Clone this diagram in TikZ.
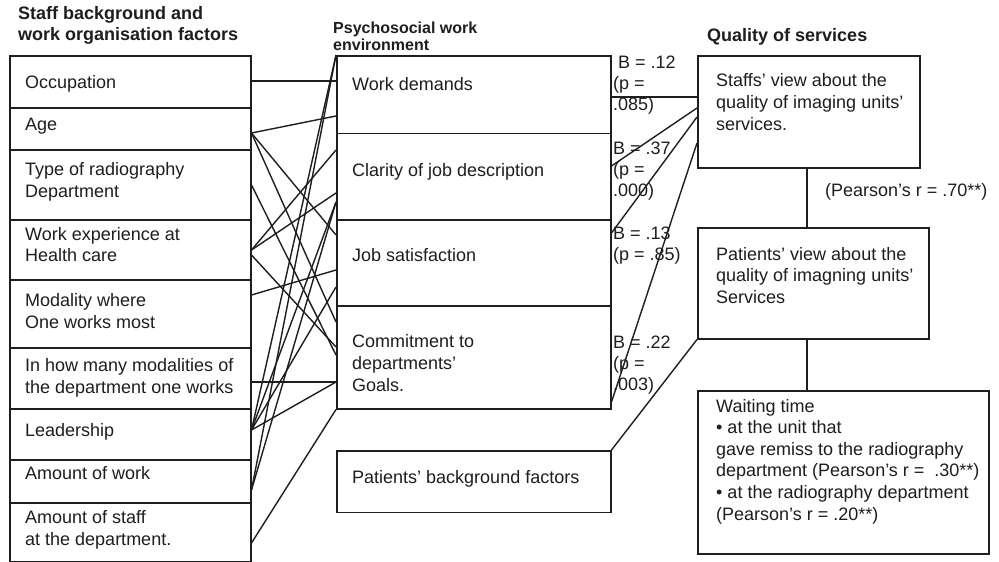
\documentclass[tikz,border=0pt]{standalone}
\usepackage{fontspec}
\setmainfont{Liberation Sans}
\usetikzlibrary{calc}
\definecolor{ink}{HTML}{1E1E1E}
\begin{document}
\begin{tikzpicture}[x=1pt,y=-1pt,
  box/.style={draw=ink, line width=1.5pt, inner sep=0pt, anchor=north west},
  txt/.style={anchor=base west, inner sep=0pt, align=left, text=ink, font=\fontsize{18}{21.6}\selectfont},
  lab/.style={anchor=base west, inner sep=0pt, align=left, text=ink, font=\fontsize{18}{20.8}\selectfont},
  hdr/.style={anchor=base west, inner sep=0pt, align=left, text=ink, font=\fontsize{18}{21.4}\selectfont\bfseries},
  hdrs/.style={anchor=base west, inner sep=0pt, align=left, text=ink, font=\fontsize{16}{17}\selectfont\bfseries},
  lnk/.style={draw=ink, line width=1.4pt},
]
\useasboundingbox[fill=white] (0,0) rectangle (999,562);

% headers (base anchor = baseline of last line)
\node[hdr] (h1) at (18,40.7) {Staff background and\\work organisation factors};
\node[hdrs] (h2) at (333,50) {Psychosocial work\\environment};
\node[hdr] (h3) at (707,41.7) {Quality of services};

% left column boxes
\node[box, minimum width=241pt, minimum height=52pt] (occ) at (9,55) {};
\node[box, minimum width=241pt, minimum height=42pt] (age) at (9,107) {};
\node[box, minimum width=241pt, minimum height=70pt] (type) at (9,149) {};
\node[box, minimum width=241pt, minimum height=60pt] (wexp) at (9,219) {};
\node[box, minimum width=241pt, minimum height=68pt] (mod) at (9,279) {};
\node[box, minimum width=241pt, minimum height=61pt] (many) at (9,347) {};
\node[box, minimum width=241pt, minimum height=51pt] (lead) at (9,408) {};
\node[box, minimum width=241pt, minimum height=43pt] (work) at (9,459) {};
\node[box, minimum width=241pt, minimum height=59pt] (staff) at (9,502) {};

\node[txt] (t-occ) at (25,88.3) {Occupation};
\node[txt] (t-age) at (25,130) {Age};
\node[txt] (t-type) at (25,197.5) {Type of radiography\\Department};
\node[txt] (t-wexp) at (25,261.7) {Work experience at\\Health care};
\node[txt] (t-mod) at (25,328.3) {Modality where\\One works most};
\node[txt] (t-many) at (25,393.3) {In how many modalities of\\the department one works};
\node[txt] (t-lead) at (25,436.7) {Leadership};
\node[txt] (t-work) at (25,479.3) {Amount of work};
\node[txt] (t-staff) at (25,545) {Amount of staff\\at the department.};

% middle column boxes
\node[box, minimum width=274pt, minimum height=77.7pt] (wd) at (336,55) {};
\node[box, minimum width=274pt, minimum height=86.3pt] (cl) at (336,132.7) {};
\node[box, minimum width=274pt, minimum height=86pt] (js) at (336,219) {};
\node[box, minimum width=274pt, minimum height=103pt] (com) at (336,305) {};
\node[box, minimum width=274pt, minimum height=61.7pt] (pat) at (336,450) {};

\node[txt] (t-wd) at (352,90) {Work demands};
\node[txt] (t-cl) at (352,176) {Clarity of job description};
\node[txt] (t-js) at (352,261) {Job satisfaction};
\node[txt] (t-com) at (352,391) {Commitment to\\departments’\\Goals.};
\node[txt] (t-pat) at (352,483) {Patients’ background factors};

% right column boxes
\node[box, minimum width=222pt, minimum height=112pt] (s1) at (697,55) {};
\node[box, minimum width=231pt, minimum height=111pt] (s2) at (697,227) {};
\node[box, minimum width=291pt, minimum height=163pt] (s3) at (697,390) {};

\node[txt] (t-s1) at (716,130) {Staffs’ view about the\\quality of imaging units’\\services.};
\node[txt] (t-s2) at (716,303.3) {Patients’ view about the\\quality of imagning units’\\Services};
\node[txt] (t-s3) at (716,520) {Waiting time\\• at the unit that\\gave remiss to the radiography\\department (Pearson’s r =\ \ .30**)\\• at the radiography department\\(Pearson’s r = .20**)};
\node[txt] (t-r70) at (825,196.7) {(Pearson’s r = .70**)};

% coefficient labels
\node[lab] (b12) at (613,110) {\hspace{5pt}B = .12\\(p =\\.085)};
\node[lab] (b37) at (613,196) {B = .37\\(p =\\.000)};
\node[lab] (b13) at (613,260) {B = .13\\(p = .85)};
\node[lab] (b22) at (613,390) {B = .22\\(p =\\.003)};

% left -> middle connectors
\draw[lnk] (occ.east |- 0,81) -- (wd.west |- 0,81);
\draw[lnk] (age.east |- 0,133) -- (wd.west |- 0,116);
\draw[lnk] (age.east |- 0,133) -- (js.west |- 0,235);
\draw[lnk] (age.east |- 0,133) -- (com.west |- 0,322);
\draw[lnk] (type.east |- 0,185) -- (com.west |- 0,355);
\draw[lnk] (wexp.east |- 0,250) -- (cl.west |- 0,150);
\draw[lnk] (wexp.east |- 0,250) -- (cl.west |- 0,193);
\draw[lnk] (wexp.east |- 0,255) -- (com.west |- 0,347);
\draw[lnk] (mod.east |- 0,295) -- (js.west |- 0,270);
\draw[lnk] (many.east |- 0,382) -- (com.west |- 0,382);
\draw[lnk] (lead.east |- 0,430) -- (com.west |- 0,382);
\draw[lnk] (lead.east |- 0,430) -- (wd.north west);
\draw[lnk] (lead.east |- 0,430) -- (cl.west |- 0,202);
\draw[lnk] (lead.east |- 0,430) -- (js.west |- 0,287);
\draw[lnk] (work.east |- 0,490) -- (wd.north west);
\draw[lnk] (work.east |- 0,490) -- (cl.west |- 0,202);
\draw[lnk] (staff.east |- 0,543) -- (com.south west);

% middle -> right connectors
\draw[lnk] (wd.east |- 0,97) -- (s1.west |- 0,97);
\draw[lnk] (cl.east |- 0,166) -- (s1.west |- 0,108);
\draw[lnk] (js.east |- 0,233) -- (s1.west |- 0,117);
\draw[lnk] (com.east |- 0,402) -- (s1.west |- 0,143);
\draw[lnk] (pat.north east) -- (s2.south west);
\draw[lnk] (s1.south -| 807,0) -- (s2.north -| 807,0);
\draw[lnk] (s2.south -| 807,0) -- (s3.north -| 807,0);
\end{tikzpicture}
\end{document}
